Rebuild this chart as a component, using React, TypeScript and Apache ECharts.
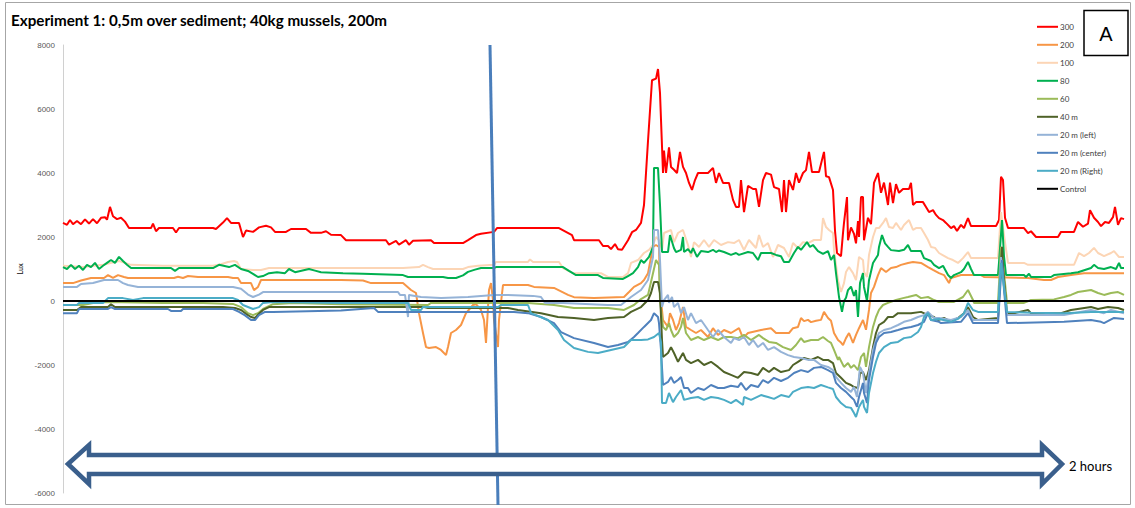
import React, { useEffect, useRef } from "react";
import * as echarts from "echarts";

// x = sample index (time), y = Lux
const seriesNames = ["300", "200", "100", "80", "60", "40 m", "20 m (left)", "20 m (center)", "20 m (Right)", "Control"];
const seriesColors = ["#ff0000", "#f79646", "#fcd5b5", "#00b050", "#9bbb59", "#4f6228", "#95b3d7", "#4f81bd", "#4bacc6", "#000000"];
const yTickMin = -6000;
const yTickMax = 8000;
const yTickStep = 2000;
const xMax = 1062;

const s300 = [[0,2440],[4,2380],[7,2530],[10,2400],[14,2500],[18,2400],[22,2550],[26,2420],[30,2560],[34,2430],[38,2600],[42,2620],[44,2540],[47,2940],[50,2650],[54,2560],[58,2600],[62,2480],[66,2280],[88,2280],[90,2420],[93,2180],[96,2280],[110,2280],[113,2140],[116,2280],[150,2280],[153,2250],[160,2450],[164,2590],[168,2440],[176,2440],[180,2000],[183,2200],[190,2160],[196,2300],[203,2350],[208,2300],[212,2160],[223,2160],[228,2250],[243,2250],[248,2130],[258,2130],[263,2180],[268,2070],[278,2060],[283,1900],[323,1900],[326,1760],[333,1880],[336,1760],[343,1900],[346,1760],[350,1880],[368,1900],[371,1810],[400,1810],[405,1900],[413,2060],[418,2100],[431,2160],[434,2280],[496,2280],[509,2060],[511,1900],[536,1900],[540,1720],[545,1720],[548,1620],[552,1780],[555,1620],[559,1600],[565,1900],[569,2150],[573,2220],[578,2440],[581,3000],[585,5000],[589,6900],[593,6950],[595,7250],[597,6500],[600,4000],[601,4700],[603,4000],[606,4800],[608,4190],[611,4100],[614,4000],[617,4660],[620,4190],[623,4000],[626,3690],[629,3470],[632,3780],[635,4000],[645,4000],[650,4160],[653,3690],[656,4000],[660,3690],[666,3690],[670,3160],[673,2940],[676,2940],[678,3780],[681,2780],[685,3600],[690,3500],[693,3500],[696,2940],[700,3780],[703,4000],[708,3950],[711,3560],[716,3500],[719,2780],[721,3780],[723,2780],[726,3780],[730,3470],[733,4000],[736,3700],[740,4000],[743,4090],[746,4660],[749,4030],[756,4030],[761,4660],[763,3900],[766,3870],[770,3470],[772,2200],[774,1500],[778,1400],[780,2120],[781,2440],[784,3250],[785,1900],[788,2300],[791,2100],[793,1800],[795,2500],[796,2000],[798,3250],[800,3250],[801,1900],[805,2600],[808,2400],[811,3690],[815,4000],[818,3380],[821,3700],[825,3000],[827,3700],[830,3060],[833,3650],[836,3380],[840,3500],[846,3500],[848,3690],[850,3000],[853,3090],[860,3090],[863,2940],[866,2780],[870,2840],[873,2690],[876,2590],[880,2530],[883,2440],[888,2280],[891,2340],[894,2190],[898,2380],[901,2280],[903,2440],[905,2590],[908,2340],[933,2340],[936,2530],[938,3880],[940,3780],[942,2600],[945,2280],[961,2280],[965,2120],[968,2180],[973,2000],[995,2000],[998,2160],[1011,2160],[1015,2470],[1020,2320],[1025,2420],[1027,2840],[1031,2600],[1035,2470],[1038,2340],[1042,2470],[1046,2440],[1050,2620],[1052,2940],[1055,2380],[1058,2590],[1061,2560]];

const s200 = [[0,560],[10,560],[18,640],[28,720],[41,720],[45,810],[50,720],[55,810],[61,750],[65,720],[111,720],[115,760],[120,720],[125,780],[135,750],[165,750],[170,720],[175,720],[178,560],[188,560],[191,340],[195,440],[198,656],[278,656],[300,640],[308,560],[340,560],[348,344],[353,250],[356,-380],[360,-1000],[363,-1440],[366,-1470],[373,-1440],[378,-1530],[383,-1690],[385,-1440],[388,-1000],[393,-906],[398,-750],[403,-380],[410,-125],[413,-100],[418,-280],[421,-594],[423,-1310],[425,-190],[426,344],[428,560],[430,30],[431,-594],[435,-1440],[436,-594],[440,500],[465,500],[471,440],[491,410],[505,190],[511,120],[531,90],[561,125],[566,280],[571,440],[578,560],[581,656],[585,870],[590,1690],[593,1750],[596,1690],[597,344],[600,-594],[605,-810],[607,-380],[610,-594],[613,-906],[616,-690],[620,-190],[623,-810],[628,-906],[633,-1000],[638,-906],[645,-1125],[650,-850],[655,-1060],[661,-906],[668,-1000],[676,-850],[680,-1160],[685,-1000],[698,-906],[708,-850],[713,-1000],[726,-1000],[730,-850],[735,-810],[738,-530],[741,-630],[745,-590],[748,-660],[753,-620],[758,-590],[761,-340],[765,-530],[768,-620],[771,-1000],[775,-1220],[778,-1300],[780,-1375],[783,-1160],[786,-1000],[790,-1310],[793,-1060],[796,-850],[800,-594],[803,-900],[806,-280],[808,250],[811,440],[815,810],[818,1030],[823,906],[828,1030],[833,1060],[838,1130],[845,1190],[850,1220],[858,1190],[865,1060],[870,970],[876,870],[881,810],[886,560],[888,720],[898,810],[918,810],[921,750],[965,720],[981,656],[988,656],[995,750],[1008,810],[1021,870],[1061,870]];

const s100 = [[0,1100],[20,1060],[40,1130],[56,1250],[62,1190],[68,1130],[100,1100],[150,1100],[158,1150],[165,1220],[171,1250],[174,1220],[178,1000],[190,970],[198,970],[206,1030],[340,1030],[356,1060],[360,1130],[365,1060],[370,1000],[400,1000],[405,1060],[415,1100],[431,1130],[433,1220],[465,1220],[467,1300],[470,1220],[496,1220],[500,1030],[510,870],[538,870],[545,750],[560,750],[565,870],[568,1190],[575,1280],[581,1500],[586,1600],[590,1750],[593,2000],[596,1900],[599,1600],[601,2125],[608,2220],[611,1840],[615,2125],[620,2220],[625,1750],[628,1375],[631,1840],[636,1690],[641,1906],[646,1690],[651,1906],[658,1750],[665,1840],[671,1810],[676,1906],[681,1594],[686,1906],[693,1656],[696,2063],[700,1690],[705,1810],[710,1375],[715,1750],[721,1656],[726,1375],[730,1810],[735,1656],[740,1840],[745,1810],[751,1906],[758,1906],[760,2590],[763,2310],[766,2220],[770,2125],[771,1594],[775,656],[778,280],[781,560],[783,906],[786,1060],[790,870],[793,656],[795,1130],[796,1375],[800,1280],[801,906],[804,750],[806,1440],[810,2000],[813,2280],[816,2280],[820,2440],[823,2590],[826,2310],[830,2280],[833,2440],[838,2220],[841,2375],[846,2530],[850,2220],[853,2280],[858,2280],[861,2125],[865,1906],[868,1690],[872,1660],[876,1500],[885,1340],[890,1280],[895,1190],[900,1340],[905,1530],[908,1340],[935,1340],[938,2780],[941,2060],[945,1190],[961,1190],[965,1130],[1011,1130],[1016,1500],[1021,1400],[1026,1500],[1031,1660],[1035,1500],[1041,1400],[1048,1500],[1051,1560],[1056,1375],[1061,1375]];

const s80 = [[0,1060],[4,1000],[8,1130],[12,1000],[16,1100],[20,970],[24,1130],[28,1060],[32,1190],[36,1000],[40,1100],[44,1190],[48,1280],[52,1190],[56,1380],[60,1250],[64,1130],[68,1030],[108,1030],[112,940],[116,1030],[150,1030],[156,1130],[166,1060],[172,1130],[178,1000],[185,940],[190,850],[195,750],[200,780],[206,870],[214,900],[222,870],[226,1000],[232,900],[246,1000],[252,950],[258,900],[280,870],[300,850],[340,810],[345,750],[380,750],[385,720],[393,720],[400,800],[405,910],[412,980],[418,1030],[431,1030],[433,1060],[500,1060],[506,940],[513,810],[535,810],[540,720],[560,690],[565,780],[570,870],[575,1060],[578,1280],[581,1190],[586,1380],[590,1690],[591,4160],[595,4160],[597,3000],[599,1530],[605,1530],[607,2060],[611,1650],[613,1530],[618,1600],[620,2000],[621,1530],[625,1620],[628,1500],[630,1650],[634,1380],[638,1560],[645,1530],[650,1600],[653,1530],[656,1580],[661,1530],[668,1440],[673,1500],[676,1440],[685,1530],[690,1500],[695,1280],[698,1500],[708,1500],[713,1440],[718,1400],[721,1220],[726,1220],[731,1500],[735,1690],[738,1600],[744,1840],[747,1690],[750,1750],[755,1560],[760,1470],[765,1560],[768,1280],[771,1440],[773,870],[776,125],[779,-340],[781,0],[783,100],[785,340],[788,450],[791,160],[793,340],[795,-500],[797,560],[800,870],[801,440],[804,0],[806,650],[810,1190],[815,1440],[816,1690],[819,2060],[822,1800],[825,1690],[828,1590],[836,1560],[841,1600],[845,1750],[848,1560],[858,1560],[861,1340],[868,1250],[871,1130],[876,1030],[880,1100],[885,810],[888,720],[891,810],[898,900],[901,1000],[905,1220],[908,1000],[911,810],[935,810],[936,1200],[939,2530],[941,1400],[943,810],[961,810],[963,750],[966,850],[968,750],[988,750],[991,810],[1008,870],[1015,900],[1028,1030],[1031,1130],[1035,1030],[1041,1000],[1048,1060],[1053,1000],[1056,1190],[1058,1030],[1061,1030]];

const s60 = [[0,-125],[20,-125],[30,-60],[45,-30],[100,-60],[140,-60],[170,-90],[178,-190],[185,-380],[190,-440],[195,-380],[200,-250],[210,-100],[230,-60],[278,-100],[365,-125],[368,-60],[465,-60],[491,-125],[511,-220],[545,-220],[561,-280],[571,-125],[578,60],[585,190],[590,870],[593,1280],[596,1125],[597,30],[600,-810],[603,-906],[606,-690],[608,-906],[611,-1125],[615,-1000],[618,-810],[620,-530],[623,-1000],[628,-1220],[635,-1125],[641,-1220],[648,-1125],[655,-1220],[661,-1125],[668,-1125],[675,-1160],[681,-1060],[688,-1220],[696,-1060],[700,-1160],[706,-1280],[713,-1310],[720,-1440],[728,-1530],[733,-1375],[738,-1160],[741,-1280],[748,-1220],[755,-1220],[760,-1125],[765,-1250],[768,-1310],[771,-1530],[775,-1840],[776,-1750],[781,-2060],[785,-1940],[788,-2090],[791,-2000],[795,-2160],[798,-1750],[801,-1625],[803,-2060],[806,-1440],[810,-810],[813,-500],[816,-280],[820,-125],[825,-60],[833,30],[840,90],[845,125],[853,190],[858,90],[865,125],[871,30],[876,-30],[891,-30],[900,125],[905,344],[910,30],[911,-60],[935,-60],[938,1690],[941,870],[944,-60],[961,-60],[968,30],[991,50],[1001,125],[1008,190],[1015,280],[1028,344],[1035,250],[1041,190],[1048,250],[1055,280],[1061,190]];

const s40 = [[0,-280],[14,-280],[18,-190],[45,-190],[48,-100],[52,-190],[160,-190],[172,-220],[178,-280],[183,-400],[188,-500],[192,-530],[196,-400],[200,-280],[206,-190],[361,-190],[365,-220],[445,-220],[455,-280],[478,-380],[495,-500],[511,-530],[531,-594],[545,-530],[561,-500],[568,-340],[578,-190],[585,30],[588,250],[591,594],[595,594],[597,250],[599,-1220],[600,-1750],[605,-1625],[608,-1440],[611,-1625],[615,-1900],[620,-1625],[623,-1840],[628,-1940],[635,-1840],[641,-2000],[648,-1900],[655,-2060],[661,-2220],[668,-2310],[675,-2400],[681,-2220],[688,-2250],[695,-2310],[700,-2090],[706,-2220],[711,-2090],[718,-2220],[726,-2160],[730,-2000],[735,-1900],[741,-1780],[748,-1840],[755,-1750],[760,-1840],[765,-1840],[770,-1940],[773,-2250],[778,-2400],[783,-2560],[788,-2625],[791,-2690],[795,-2720],[797,-2250],[800,-2220],[803,-2470],[806,-2160],[810,-1440],[813,-1000],[816,-750],[821,-650],[825,-500],[830,-500],[835,-380],[848,-380],[858,-340],[865,-440],[871,-500],[875,-594],[881,-530],[888,-650],[895,-530],[901,-380],[905,-190],[910,-500],[915,-594],[935,-530],[939,1690],[941,656],[944,-380],[951,-380],[965,-280],[968,-380],[998,-380],[1008,-280],[1028,-190],[1035,-250],[1045,-190],[1055,-220],[1061,-280]];

const s20left = [[0,440],[14,440],[18,530],[30,560],[41,656],[55,656],[60,560],[65,500],[75,440],[170,440],[178,380],[185,200],[190,125],[196,200],[200,280],[335,280],[337,190],[342,190],[345,-500],[346,190],[358,125],[378,90],[405,125],[431,190],[445,190],[470,160],[478,125],[482,-60],[500,-60],[545,-125],[558,-125],[568,125],[578,344],[585,656],[590,1375],[591,2220],[595,2220],[597,1280],[599,-190],[601,30],[605,190],[606,-60],[609,125],[611,-190],[615,-60],[618,-380],[621,-190],[625,-594],[628,-380],[633,-690],[638,-594],[645,-906],[650,-1125],[655,-906],[661,-1125],[668,-1310],[671,-1160],[676,-1220],[681,-1125],[686,-1375],[690,-1220],[695,-1440],[700,-1310],[705,-1530],[711,-1440],[718,-1590],[725,-1690],[731,-1750],[738,-1780],[745,-1840],[751,-1840],[758,-2000],[765,-2060],[770,-2160],[773,-2375],[778,-2560],[783,-2720],[788,-2840],[791,-2690],[794,-3000],[797,-2060],[800,-2250],[803,-2875],[806,-2250],[810,-1530],[813,-1220],[816,-1000],[821,-906],[828,-850],[835,-750],[841,-650],[848,-594],[855,-500],[861,-440],[865,-340],[871,-530],[876,-530],[888,-594],[898,-500],[905,-280],[910,-594],[935,-594],[938,1375],[941,440],[944,-440],[1001,-440],[1028,-280],[1041,-380],[1048,-280],[1061,-380]];

const s20center = [[0,-380],[14,-380],[16,-250],[45,-250],[48,-190],[52,-250],[105,-250],[108,-310],[118,-310],[120,-250],[170,-250],[176,-340],[182,-450],[188,-594],[192,-594],[196,-440],[202,-340],[210,-340],[278,-300],[311,-220],[315,-340],[451,-340],[465,-380],[478,-500],[491,-690],[498,-970],[511,-1160],[531,-1310],[545,-1440],[555,-1375],[565,-1280],[571,-1125],[575,-1000],[581,-810],[588,-594],[591,-380],[595,-500],[596,-690],[598,-1530],[600,-2625],[605,-2530],[608,-2375],[611,-2560],[615,-2470],[618,-2375],[621,-2720],[625,-2720],[628,-2875],[635,-2720],[641,-2780],[648,-2625],[655,-2720],[661,-2720],[668,-2650],[675,-2690],[678,-2560],[683,-2780],[688,-2625],[695,-2690],[700,-2470],[705,-2560],[711,-2400],[718,-2500],[725,-2400],[731,-2250],[738,-2160],[745,-2220],[751,-2090],[758,-2060],[765,-2160],[770,-2250],[773,-2560],[778,-2720],[783,-2840],[788,-3000],[791,-3090],[794,-3310],[796,-3000],[800,-2560],[801,-2875],[804,-3190],[806,-2470],[810,-1750],[813,-1310],[816,-1125],[821,-1000],[828,-970],[835,-906],[841,-850],[848,-810],[855,-750],[861,-650],[865,-380],[868,-594],[876,-650],[878,-690],[898,-650],[905,-380],[910,-690],[935,-690],[939,1280],[941,344],[944,-690],[1001,-650],[1028,-594],[1038,-650],[1041,-690],[1051,-530],[1061,-560]];

const s20right = [[0,-125],[14,-125],[16,-60],[40,-60],[45,90],[60,90],[70,30],[80,90],[170,90],[175,30],[180,-125],[190,-250],[196,-190],[200,-60],[210,-30],[278,-60],[345,-60],[348,-280],[358,-280],[360,-190],[435,-190],[438,-125],[465,-125],[468,-380],[485,-594],[495,-906],[501,-1220],[511,-1470],[525,-1590],[535,-1625],[548,-1530],[561,-1440],[568,-1220],[578,-1220],[585,-1200],[591,-1125],[596,-1000],[598,-1300],[599,-3190],[603,-3190],[606,-2875],[610,-3160],[613,-3000],[618,-2780],[621,-3090],[628,-3030],[635,-3000],[641,-3090],[648,-3000],[655,-3030],[661,-3090],[668,-3190],[673,-3090],[680,-3250],[681,-3000],[688,-3090],[698,-2940],[705,-3000],[711,-3060],[718,-2940],[726,-3000],[730,-2840],[738,-2720],[745,-2690],[751,-2720],[758,-2625],[765,-2700],[770,-2750],[773,-3000],[778,-3190],[783,-3310],[788,-3340],[791,-3500],[793,-3625],[796,-3310],[800,-3090],[801,-3310],[804,-3500],[806,-2875],[810,-2250],[813,-1900],[816,-1625],[821,-1440],[828,-1310],[835,-1280],[841,-1160],[848,-1125],[855,-970],[858,-810],[861,-500],[865,-380],[868,-594],[876,-560],[888,-650],[895,-560],[901,-380],[905,-60],[910,-280],[915,-340],[935,-340],[938,1190],[941,440],[944,-340],[968,-370],[1001,-380],[1028,-340],[1061,-340]];

const sControl = [[0,0],[1061,0]];

const seriesData = [s300, s200, s100, s80, s60, s40, s20left, s20center, s20right, sControl];

export default function App() {
  const ref = useRef<HTMLDivElement>(null);

  useEffect(() => {
    if (!ref.current) return;
    const chart = echarts.init(ref.current, null, { renderer: "svg" });
    chart.setOption({
      animation: false,
      backgroundColor: "#ffffff",
      title: {
        text: "Experiment 1: 0,5m over sediment; 40kg mussels, 200m",
        left: 6,
        top: 7,
        textStyle: { fontFamily: "Lato", fontWeight: "bold", fontSize: 15.2, color: "#000000" },
      },
      legend: {
        orient: "vertical",
        left: 1031,
        top: 17,
        itemWidth: 21,
        itemHeight: 12,
        itemGap: 8.4,
        data: seriesNames,
        itemStyle: { opacity: 0 },
        textStyle: { fontFamily: "Lato", fontSize: 8, color: "#404040", padding: [0, 0, 0, -3] },
      },
      grid: { left: 63, right: 10, top: 45, bottom: 15, containLabel: false },
      xAxis: { type: "value", min: 0, max: xMax, show: false },
      yAxis: {
        type: "value",
        min: yTickMin,
        max: yTickMax,
        interval: yTickStep,
        name: "Lux",
        nameLocation: "middle",
        nameRotate: 90,
        nameGap: 36,
        nameTextStyle: { fontFamily: "Lato", fontWeight: "bold", fontSize: 7, color: "#404040" },
        axisLine: { show: true, lineStyle: { color: "#d0d0d0", width: 1 } },
        axisTick: { show: false },
        splitLine: { show: false },
        axisLabel: {
          fontFamily: "Liberation Sans",
          fontSize: 8,
          color: "#595959",
          margin: 8,
          formatter: (v: number) => String(v),
        },
      },
      series: seriesNames.map((name, i) => ({
        name,
        type: "line",
        data: seriesData[i],
        symbol: "none",
        showSymbol: false,
        smooth: false,
        color: seriesColors[i],
        lineStyle: { color: seriesColors[i], width: 2 },
        z: 2 + i,
      })),
      graphic: [
        {
          type: "rect",
          silent: true,
          z: 0,
          shape: { x: 5.5, y: 2.5, width: 1125, height: 502 },
          style: { fill: "none", stroke: "#a6a6a6", lineWidth: 1 },
        },
        {
          type: "line",
          silent: true,
          z: 50,
          shape: { x1: 490, y1: 45, x2: 498, y2: 505 },
          style: { stroke: "#4a7ebb", lineWidth: 3 },
        },
        {
          type: "polygon",
          silent: true,
          z: 60,
          shape: {
            points: [
              [68, 464], [89, 445], [89, 455], [1042, 455], [1042, 445],
              [1062, 464], [1042, 484], [1042, 474], [89, 474], [89, 484],
            ],
          },
          style: { fill: "#ffffff", stroke: "#3a5f8c", lineWidth: 4.5, lineJoin: "miter" },
        },
        {
          type: "text",
          silent: true,
          z: 60,
          x: 1069,
          y: 466,
          style: { text: "2 hours", fontFamily: "Lato", fontSize: 13, fill: "#000000", verticalAlign: "middle" },
        },
        {
          type: "rect",
          silent: true,
          z: 60,
          shape: { x: 1084, y: 10.5, width: 44, height: 45 },
          style: { fill: "#ffffff", stroke: "#000000", lineWidth: 1.5 },
        },
        {
          type: "text",
          silent: true,
          z: 61,
          x: 1106,
          y: 34,
          style: { text: "A", fontFamily: "Liberation Sans", fontSize: 20, fill: "#000000", align: "center", verticalAlign: "middle" },
        },
      ],
    });
    return () => chart.dispose();
  }, []);

  return (
    <div
      ref={ref}
      style={{ position: "fixed", left: 0, top: 0, width: 1135, height: 508, background: "#ffffff" }}
    />
  );
}
